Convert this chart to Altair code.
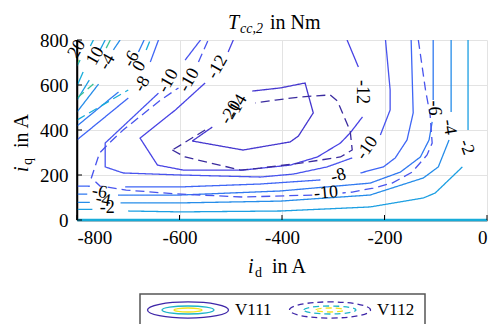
import altair as alt
import pandas as pd

# ---------------- data ----------------
X_TICKS = [-800, -600, -400, -200, 0]
Y_TICKS = [0, 200, 400, 600, 800]

LEVELS = [-20, -14, -12, -10, -8, -6, -4, -2, 0, 2, 10, 20]
LEVEL_COLORS = ["#3b2c9f", "#4537cf", "#4843e4", "#4854ee", "#3f66f5", "#317af0",
                "#268de9", "#1c9fe2", "#17acd9", "#1ab7c5", "#3cc195", "#7ac56e"]

# V111 (solid) contour pieces: (level, [(i_d, i_q), ...])
V111 = [
    (-2, [(-37, 800), (-37, 400)]),
    (-2, [(-48, 236), (-101, 120), (-124, 98), (-228, 58), (-403, 40), (-598, 36), (-700, 40)]),
    (-2, [(-770, 47), (-800, 47)]),
    (-4, [(-70, 800), (-70, 480)]),
    (-4, [(-74, 356), (-95, 236), (-124, 187), (-228, 111), (-403, 84), (-598, 76), (-715, 76)]),
    (-4, [(-775, 78), (-800, 78)]),
    (-6, [(-105, 800), (-105, 533)]),
    (-6, [(-107, 436), (-113, 356), (-130, 280), (-169, 213), (-228, 164), (-403, 129), (-598, 111), (-720, 111)]),
    (-6, [(-780, 115), (-800, 115)]),
    (-8, [(-148, 800), (-144, 476), (-156, 356), (-179, 276), (-202, 236), (-247, 209)]),
    (-8, [(-325, 178), (-442, 160), (-598, 147), (-706, 147)]),
    (-8, [(-775, 150), (-800, 151)]),
    (-10, [(-559, 800), (-589, 711)]),
    (-10, [(-641, 564), (-745, 342), (-745, 236), (-710, 209), (-598, 200), (-442, 191),
           (-378, 204), (-312, 236), (-263, 276)]),
    (-10, [(-208, 378), (-189, 489), (-189, 578), (-198, 800)]),
    (-12, [(-495, 800), (-505, 747)]),
    (-12, [(-550, 609), (-608, 489), (-677, 364), (-643, 244), (-593, 222), (-476, 222),
           (-384, 244), (-331, 280), (-286, 342), (-267, 387), (-243, 458)]),
    (-12, [(-251, 680), (-273, 800)]),
    (-14, [(-575, 351), (-536, 413)]),
    (-14, [(-458, 573), (-403, 587), (-355, 609), (-347, 542), (-339, 476), (-368, 373),
           (-384, 347), (-476, 311), (-575, 351)]),
    (-8, [(-800, 356), (-700, 542)]),
    (-8, [(-657, 702), (-641, 800)]),
    (-6, [(-800, 418), (-719, 569)]),
    (-6, [(-680, 747), (-669, 800)]),
    (-4, [(-800, 480), (-758, 604)]),
    (-4, [(-729, 756), (-716, 800)]),
    (-2, [(-800, 533), (-776, 622)]),
    (-2, [(-755, 756), (-745, 800)]),
    (0, [(-800, 596), (-788, 658)]),
    (0, [(-774, 773), (-768, 800)]),
    (2, [(-800, 684), (-794, 711)]),
]

# V112 (dashed) contour pieces
V112 = [
    (-20, [(-614, 311), (-589, 280), (-481, 222), (-442, 231), (-364, 253), (-286, 280),
           (-263, 311), (-267, 396), (-292, 529), (-306, 556), (-364, 547), (-413, 533), (-452, 520)]),
    (-20, [(-550, 400), (-598, 333), (-614, 311)]),
    (-10, [(-134, 800), (-120, 578), (-111, 467), (-107, 342), (-117, 289), (-146, 213),
           (-185, 164), (-222, 142), (-263, 124), (-282, 120)]),
    (-10, [(-341, 111), (-476, 102), (-606, 116), (-704, 133), (-755, 151), (-772, 187),
           (-756, 298), (-737, 342), (-710, 400), (-637, 533), (-602, 587)]),
    (-10, [(-563, 702), (-544, 800)]),
    (0, [(-800, 444), (-700, 578)]),
    (0, [(-665, 756), (-657, 800)]),
    (10, [(-800, 542), (-768, 604)]),
    (10, [(-743, 764), (-735, 800)]),
    (20, [(-800, 693), (-796, 711)]),
]

ZERO_LINE_ID = [-800, 0]
ZERO_LINE_IQ = [0, 0]

# contour labels: (text, i_d, i_q, angle)
LABELS = [
    ("-14", -488, 505, 300), ("-20", -500, 478, 300),
    ("-12", -243, 569, 90), ("-12", -526, 680, 300),
    ("-10", -622, 618, 300), ("-10", -581, 622, 300),
    ("-8", -673, 604, 300), ("-6", -694, 716, 300), ("0", -678, 684, 300),
    ("-4", -741, 702, 300), ("10", -764, 729, 300), ("20", -800, 760, 300),
    ("-6", -103, 498, 90), ("-4", -74, 413, 80), ("-2", -40, 324, 70),
    ("-10", -234, 320, 305), ("-8", -290, 196, 345), ("-10", -314, 120, 355),
    ("-6", -756, 124, 10), ("-4", -749, 89, 10), ("-2", -741, 53, 0),
]

# ---------------- tables ----------------
rows = []
seg = 0
for ver, pieces in (("V111", V111), ("V112", V112)):
    for lev, pts in pieces:
        for k, (a, b) in enumerate(pts):
            rows.append({"seg": seg, "k": k, "id": a, "iq": b, "lev": str(lev), "ver": ver})
        seg += 1
lines_df = pd.DataFrame(rows)
zero_df = pd.DataFrame({"id": ZERO_LINE_ID, "iq": ZERO_LINE_IQ})
lab_df = pd.DataFrame(LABELS, columns=["t", "id", "iq", "ang"])
xt_df = pd.DataFrame({"v": X_TICKS})
yt_df = pd.DataFrame({"v": Y_TICKS})
one = pd.DataFrame({"a": [0]})

FONT = "Liberation Serif"
W, H = 410, 180

xs = alt.Scale(domain=[-800, 0], nice=False, zero=False)
ys = alt.Scale(domain=[0, 800], nice=False, zero=False)

xaxis = alt.Axis(values=X_TICKS, title=None, labelExpr="toString(datum.value)",
                 labelFont=FONT, labelFontSize=19, labelColor="black", tickSize=0,
                 labelPadding=8, domainColor="black", domainWidth=1.5,
                 grid=True, gridColor="#e3e3e3", gridWidth=1)
yaxis = alt.Axis(values=Y_TICKS, title=None, labelExpr="toString(datum.value)",
                 labelFont=FONT, labelFontSize=19, labelColor="black", tickSize=0,
                 labelPadding=9, domainColor="black", domainWidth=1.5,
                 grid=True, gridColor="#e3e3e3", gridWidth=1)

contours = alt.Chart(lines_df).mark_line(strokeWidth=1.3, clip=True).encode(
    x=alt.X("id:Q", scale=xs, axis=xaxis),
    y=alt.Y("iq:Q", scale=ys, axis=yaxis),
    detail="seg:N",
    order="k:Q",
    color=alt.Color("lev:N", scale=alt.Scale(domain=[str(l) for l in LEVELS], range=LEVEL_COLORS), legend=None),
    strokeDash=alt.StrokeDash("ver:N", scale=alt.Scale(domain=["V111", "V112"], range=[[1, 0], [9, 5]]), legend=None),
)

zero = alt.Chart(zero_df).mark_line(strokeWidth=2.6, color="#17acd9").encode(
    x=alt.X("id:Q", scale=xs), y=alt.Y("iq:Q", scale=ys))

labels = alt.Chart(lab_df).mark_text(font=FONT, fontSize=18, color="black").encode(
    x=alt.X("id:Q", scale=xs), y=alt.Y("iq:Q", scale=ys), text="t:N",
    angle=alt.Angle("ang:Q", scale=None))

yticks = alt.Chart(yt_df).mark_rule(color="black", strokeWidth=1).encode(
    y=alt.Y("v:Q", scale=ys), x=alt.value(0), x2=alt.value(5))
xticks = alt.Chart(xt_df).mark_rule(color="black", strokeWidth=1).encode(
    x=alt.X("v:Q", scale=xs), y=alt.value(H), y2=alt.value(H - 5))
left_axis = alt.Chart(one).mark_rule(color="black", strokeWidth=1.6).encode(
    x=alt.value(0), y=alt.value(0), y2=alt.value(H))


def txt(s, x, y, size=20, style="normal", angle=0, align="left", baseline="alphabetic"):
    return alt.Chart(one).mark_text(text=s, font=FONT, fontSize=size, fontStyle=style,
                                    color="black", align=align, baseline=baseline,
                                    angle=angle).encode(x=alt.value(x), y=alt.value(y))


title_parts = [
    txt("T", 151, -11, 20, "italic"),
    txt("cc,2", 163, -7, 14, "italic"),
    txt("in Nm", 193, -11, 20),
]
xtitle_parts = [
    txt("i", 171, 233, 20, "italic"),
    txt("d", 178, 237, 14),
    txt("in A", 195, 233, 20),
]
ytitle_parts = [
    txt("i", -49, 132, 20, "italic", angle=270),
    txt("q", -45, 125, 14, angle=270),
    txt("in A", -49, 108, 20, angle=270),
]

# legend drawn below the plot
OUT = "M-1,0A1,0.2 0 1,1 1,0A1,0.2 0 1,1 -1,0Z"
MID = "M-1,0A1,0.154 0 1,1 1,0A1,0.154 0 1,1 -1,0Z"
INN = "M-1,0A1,0.143 0 1,1 1,0A1,0.143 0 1,1 -1,0Z"
box = alt.Chart(one).mark_rect(fill="white", stroke="#555555", strokeWidth=1.5).encode(
    x=alt.value(63), x2=alt.value(348), y=alt.value(254), y2=alt.value(292))


def ell(path, size, color, cx, dash):
    kw = dict(shape=path, size=size, filled=False, stroke=color, strokeWidth=1.3, opacity=1)
    if dash:
        kw["strokeDash"] = [6, 4]
    return alt.Chart(one).mark_point(**kw).encode(x=alt.value(cx), y=alt.value(270))


legend = [box,
          ell(OUT, 6561, "#3e26a8", 111, False), ell(MID, 2704, "#1fb5c9", 111, False),
          ell(INN, 784, "#f2e41e", 111, False),
          txt("V111", 158, 270, 17, baseline="middle"),
          ell(OUT, 6561, "#3e26a8", 253, True), ell(MID, 2704, "#1fb5c9", 253, True),
          ell(INN, 784, "#f2e41e", 253, True),
          txt("V112", 300, 270, 17, baseline="middle")]

chart = alt.layer(
    contours, zero, labels, yticks, xticks, left_axis,
    *title_parts, *xtitle_parts, *ytitle_parts, *legend
).properties(
    width=W, height=H,
    autosize=alt.AutoSizeParams(type="none"),
    padding={"left": 77, "top": 40, "right": 5, "bottom": 104},
    background="white",
).configure_view(stroke=None)

chart.save("out.html", embed_options={"renderer": "svg", "actions": False})
